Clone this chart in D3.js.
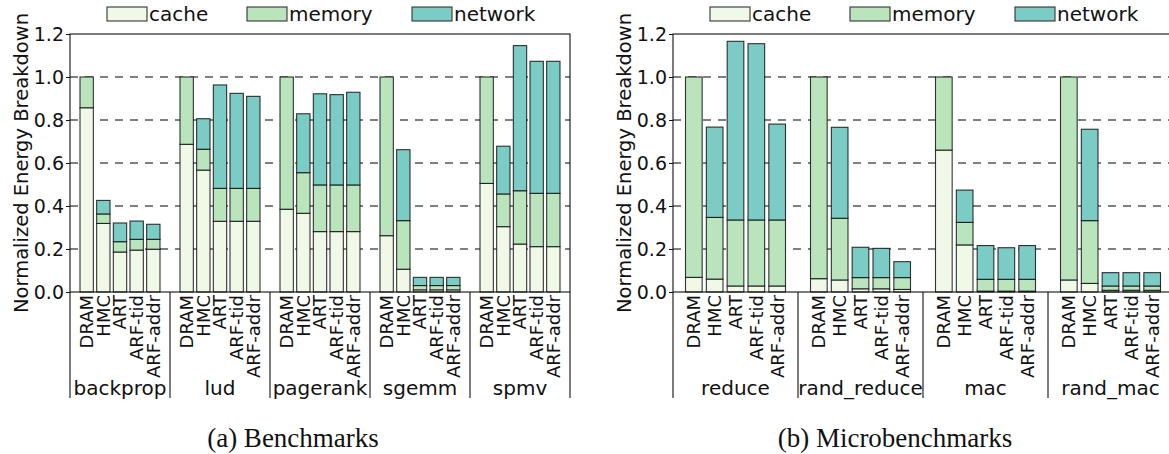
<!DOCTYPE html>
<html>
<head>
  <meta charset="utf-8">
  <title>Normalized Energy Breakdown</title>
  <script src="https://d3js.org/d3.v7.min.js"></script>
  <style>
    body { margin: 0; background: #fff; }
    text { font-family: "DejaVu Sans", sans-serif; fill: #111; }
    .caption { font-family: "Liberation Serif", serif; }
  </style>
</head>
<body>
<script>
// configurations shown in every group
const configs = ['DRAM', 'HMC', 'ART', 'ARF-tid', 'ARF-addr']
const parts = ['cache', 'memory', 'network']
const partColors = ['#f0f9e8', '#bae4bc', '#7bccc4']
const yTicks = [0, 0.2, 0.4, 0.6, 0.8, 1.0, 1.2]

// (a) benchmarks, one row per benchmark, one value per config
const benchmarks = ['backprop', 'lud', 'pagerank', 'sgemm', 'spmv']
const benchCache = [
  [0.857, 0.319, 0.186, 0.195, 0.199],
  [0.687, 0.567, 0.329, 0.329, 0.329],
  [0.385, 0.366, 0.281, 0.281, 0.281],
  [0.262, 0.106, 0.010, 0.010, 0.010],
  [0.505, 0.304, 0.223, 0.211, 0.211]
]
const benchMemory = [
  [0.143, 0.044, 0.048, 0.050, 0.046],
  [0.313, 0.097, 0.153, 0.153, 0.153],
  [0.615, 0.189, 0.217, 0.217, 0.217],
  [0.738, 0.226, 0.020, 0.020, 0.020],
  [0.495, 0.152, 0.248, 0.248, 0.248]
]
const benchNetwork = [
  [0, 0.063, 0.087, 0.085, 0.070],
  [0, 0.142, 0.481, 0.442, 0.428],
  [0, 0.274, 0.424, 0.420, 0.431],
  [0, 0.330, 0.038, 0.038, 0.038],
  [0, 0.222, 0.675, 0.614, 0.614]
]

// (b) microbenchmarks
const micros = ['reduce', 'rand_reduce', 'mac', 'rand_mac']
const microCache = [
  [0.068, 0.060, 0.028, 0.028, 0.028],
  [0.062, 0.056, 0.015, 0.015, 0.012],
  [0.660, 0.219, 0.004, 0.004, 0.004],
  [0.056, 0.040, 0.008, 0.008, 0.008]
]
const microMemory = [
  [0.932, 0.287, 0.307, 0.307, 0.307],
  [0.938, 0.287, 0.052, 0.052, 0.055],
  [0.340, 0.105, 0.055, 0.055, 0.055],
  [0.944, 0.292, 0.020, 0.020, 0.020]
]
const microNetwork = [
  [0, 0.420, 0.831, 0.820, 0.446],
  [0, 0.423, 0.141, 0.136, 0.074],
  [0, 0.150, 0.157, 0.147, 0.157],
  [0, 0.425, 0.062, 0.062, 0.062]
]

const svg = d3.select('body').append('svg')
  .attr('width', 1169)
  .attr('height', 454)

const y = d3.scaleLinear().domain([0, 1.2]).range([292, 34])

function panel(x0, x1, groups, cache, memory, network, caption, capX) {
  const g = svg.append('g')

  const xg = d3.scaleBand().domain(groups).range([x0, x1])
  const xb = d3.scaleBand().domain(configs)
    .range([0, xg.bandwidth()])
    .paddingInner(0.2)
    .paddingOuter(0.6)

  // dashed grid
  g.append('g').selectAll('line')
    .data(yTicks.filter(d => d > 0 && d < 1.2))
    .join('line')
      .attr('x1', x0).attr('x2', x1)
      .attr('y1', d => y(d)).attr('y2', d => y(d))
      .attr('stroke', '#000')
      .attr('stroke-width', 1)
      .attr('stroke-dasharray', '8,7')

  // flat table for the stack
  const rows = []
  groups.forEach((grp, i) => {
    configs.forEach((c, j) => {
      rows.push({ group: grp, config: c,
        cache: cache[i][j], memory: memory[i][j], network: network[i][j] })
    })
  })
  const series = d3.stack().keys(parts)(rows)

  g.append('g').selectAll('g')
    .data(series)
    .join('g')
      .attr('fill', (d, i) => partColors[i])
    .selectAll('rect')
    .data(d => d.filter(s => s[1] - s[0] > 0))
    .join('rect')
      .attr('x', d => xg(d.data.group) + xb(d.data.config))
      .attr('width', xb.bandwidth())
      .attr('y', d => y(d[1]))
      .attr('height', d => y(d[0]) - y(d[1]))
      .attr('stroke', '#111')
      .attr('stroke-opacity', 0.85)
      .attr('stroke-width', 1.1)

  // frame
  g.append('rect')
    .attr('x', x0).attr('y', y(1.2))
    .attr('width', x1 - x0).attr('height', y(0) - y(1.2))
    .attr('fill', 'none')
    .attr('stroke', '#111')
    .attr('stroke-width', 1.1)

  // y axis
  const ax = g.append('g')
    .attr('transform', `translate(${x0},0)`)
    .call(d3.axisLeft(y).tickValues(yTicks).tickFormat(d3.format('.1f'))
      .tickSize(4).tickSizeOuter(0).tickPadding(2))
  ax.select('.domain').remove()
  ax.selectAll('text').style('font-size', '19px').attr('fill', '#111')
    .style('font-family', '"DejaVu Sans", sans-serif')
  ax.selectAll('line').attr('stroke', '#111')

  g.append('text')
    .attr('transform', `translate(${x0 - 42},163) rotate(-90)`)
    .attr('text-anchor', 'middle')
    .style('font-size', '19.5px')
    .text('Normalized Energy Breakdown')

  // config labels under bars
  g.append('g').selectAll('text')
    .data(rows)
    .join('text')
      .attr('transform', d => `translate(${xg(d.group) + xb(d.config) + xb.bandwidth() / 2},295) rotate(-90)`)
      .attr('text-anchor', 'end')
      .attr('dy', '0.36em')
      .style('font-size', '18px')
      .text(d => d.config)

  // group separators
  const bounds = groups.map(d => xg(d)).concat([x1])
  g.append('g').selectAll('line')
    .data(bounds)
    .join('line')
      .attr('x1', d => d).attr('x2', d => d)
      .attr('y1', y(0)).attr('y2', 398)
      .attr('stroke', '#111')
      .attr('stroke-width', 1.1)

  g.append('g').selectAll('text')
    .data(groups)
    .join('text')
      .attr('x', d => xg(d) + xg.bandwidth() / 2)
      .attr('y', 395)
      .attr('text-anchor', 'middle')
      .style('font-size', '20px')
      .text(d => d)

  // legend
  const legendX = [37, 177, 342]
  const lg = g.append('g').selectAll('g')
    .data(parts)
    .join('g')
      .attr('transform', (d, i) => `translate(${x0 + legendX[i]},7)`)
  lg.append('rect')
    .attr('width', 40).attr('height', 14)
    .attr('fill', (d, i) => partColors[i])
    .attr('stroke', '#333')
    .attr('stroke-width', 1.1)
  lg.append('text')
    .attr('x', 42).attr('y', 14)
    .style('font-size', '20px')
    .text(d => d)

  svg.append('text')
    .attr('class', 'caption')
    .attr('x', capX).attr('y', 447)
    .attr('text-anchor', 'middle')
    .style('font-size', '27px')
    .text(caption)
}

panel(70, 570, benchmarks, benchCache, benchMemory, benchNetwork, '(a) Benchmarks', 293)
panel(673, 1173, micros, microCache, microMemory, microNetwork, '(b) Microbenchmarks', 895)
</script>
</body>
</html>
